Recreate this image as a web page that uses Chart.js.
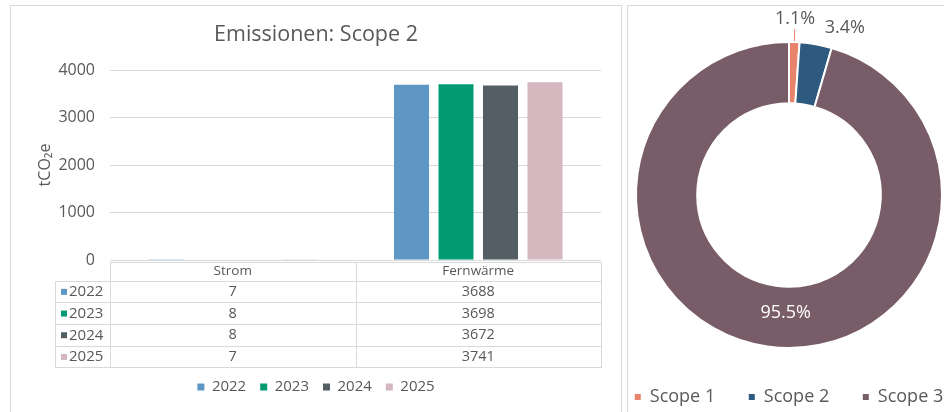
<!DOCTYPE html>
<html>
<head>
<meta charset="utf-8">
<script src="https://cdn.jsdelivr.net/npm/chart.js@4/dist/chart.umd.min.js"></script>
<style>
  html, body { margin: 0; padding: 0; background: #ffffff; width: 944px; height: 412px; overflow: hidden; }
  .panel { position: absolute; border: 1px solid #d9d9d9; background: #fff; overflow: hidden; }
  #leftPanel { left: 10px; top: 5px; width: 610px; height: 412px; }
  #rightPanel { left: 627px; top: 5px; width: 330px; height: 412px; }
  canvas { position: absolute; top: 0; }
  #barChart { left: 0; }
  #donutChart { left: -40px; }
</style>
</head>
<body>
<div class="panel" id="leftPanel"><canvas id="barChart" width="610" height="410"></canvas></div>
<div class="panel" id="rightPanel"><canvas id="donutChart" width="400" height="412"></canvas></div>
<script>
// ---- data ----
const categories = ['Strom', 'Fernwärme'];
const years = ['2022', '2023', '2024', '2025'];
const values2022 = [7, 3688];
const values2023 = [8, 3698];
const values2024 = [8, 3672];
const values2025 = [7, 3741];
const yTicks = [0, 1000, 2000, 3000, 4000];
const chartTitle = 'Emissionen: Scope 2';
const yAxisTitle = 'tCO\u2082e';

const scopeLabels = ['Scope 1', 'Scope 2', 'Scope 3'];
const scopeShares = [1.1, 3.4, 95.5];

// ---- styles ----
const yearColors = ['#5e96c4', '#009b72', '#545f65', '#d5b8bf'];
const scopeColors = ['#e8836c', '#2e5a80', '#785c67'];
const textGray = '#595959';
const lineGray = '#d9d9d9';
const FONT = "'Open Sans', 'Noto Sans', sans-serif";

Chart.defaults.font.family = FONT;
Chart.defaults.color = textGray;

const seriesValues = [values2022, values2023, values2024, values2025];

// Data table drawn beneath the category axis
const dataTablePlugin = {
  id: 'dataTable',
  afterDraw(chart) {
    const { ctx, chartArea, scales } = chart;
    const x = scales.x;
    const top = chartArea.bottom + 1.5;
    const headerH = 19, rowH = 21.7;
    const keyLeft = 44;
    const right = chartArea.right;
    const left = chartArea.left;
    const rowsTop = top + headerH;
    const bottom = rowsTop + rowH * years.length;
    const catW = (right - left) / categories.length;

    ctx.save();
    ctx.strokeStyle = lineGray;
    ctx.lineWidth = 1;
    ctx.beginPath();
    ctx.moveTo(left, Math.round(top) + 0.5); ctx.lineTo(right, Math.round(top) + 0.5);
    for (let k = 0; k <= years.length; k++) {
      const yy = Math.round(rowsTop + k * rowH) + 0.5;
      ctx.moveTo(keyLeft, yy); ctx.lineTo(right, yy);
    }
    ctx.moveTo(keyLeft + 0.5, Math.round(rowsTop)); ctx.lineTo(keyLeft + 0.5, Math.round(bottom) + 1);
    for (let c = 0; c <= categories.length; c++) {
      const xx = Math.round(left + c * catW) + 0.5;
      ctx.moveTo(xx, Math.round(top)); ctx.lineTo(xx, Math.round(bottom) + 1);
    }
    ctx.stroke();

    ctx.textBaseline = 'middle';
    ctx.fillStyle = textGray;
    ctx.font = '13.5px ' + FONT;
    ctx.textAlign = 'center';
    categories.forEach((cat, i) => {
      ctx.fillText(cat, x.getPixelForValue(i), top + headerH / 2 + 0.5);
    });
    years.forEach((yr, r) => {
      const cy = rowsTop + r * rowH + rowH / 2 + 0.5;
      ctx.fillStyle = yearColors[r];
      ctx.fillRect(keyLeft + 6, cy - 3, 6, 6);
      ctx.fillStyle = textGray;
      ctx.font = '15px ' + FONT;
      ctx.textAlign = 'left';
      ctx.fillText(yr, keyLeft + 14, cy);
      ctx.font = '14.5px ' + FONT;
      ctx.textAlign = 'center';
      seriesValues[r].forEach((v, i) => {
        ctx.fillText(String(v), x.getPixelForValue(i), cy);
      });
    });
    ctx.restore();
  }
};

new Chart(document.getElementById('barChart'), {
  type: 'bar',
  data: {
    labels: categories,
    datasets: years.map((yr, i) => ({
      label: yr,
      data: seriesValues[i],
      backgroundColor: yearColors[i],
      borderWidth: 0,
      categoryPercentage: 0.725,
      barPercentage: 0.787
    }))
  },
  options: {
    responsive: false,
    animation: false,
    layout: { padding: { left: 0, right: 0, top: 0, bottom: 11.5 } },
    scales: {
      x: {
        grid: { display: false },
        border: { display: false },
        ticks: { display: false },
        afterFit(s) { s.height = 105.5; }
      },
      y: {
        min: yTicks[0],
        max: yTicks[yTicks.length - 1],
        afterBuildTicks(s) { s.ticks = yTicks.map(v => ({ value: v })); },
        ticks: { padding: 15, font: { size: 16 }, color: textGray, callback: v => String(v) },
        grid: { color: lineGray, drawTicks: false },
        border: { display: false },
        title: { display: true, text: yAxisTitle, font: { size: 16 }, color: textGray, padding: { top: 24.4, bottom: 0 } },
        afterFit(s) { s.width = 99; }
      },
      yRight: {
        type: 'linear',
        position: 'right',
        grid: { display: false },
        border: { display: false },
        ticks: { display: false },
        afterFit(s) { s.width = 20; }
      }
    },
    plugins: {
      title: {
        display: true,
        text: chartTitle,
        font: { size: 21.5, weight: 'normal' },
        color: textGray,
        padding: { top: 16, bottom: 22.2 }
      },
      legend: {
        position: 'bottom',
        labels: { boxWidth: 7, boxHeight: 7, padding: 14, font: { size: 15 }, color: textGray }
      },
      tooltip: { enabled: false }
    }
  },
  plugins: [dataTablePlugin]
});

// Percentage labels for doughnut
const labelPlacement = [
  { mode: 'leader' },
  { mode: 'outside' },
  { mode: 'inside', dx: 14, dy: -3 }
];

const pctLabelPlugin = {
  id: 'pctLabels',
  afterDatasetsDraw(chart) {
    const { ctx } = chart;
    const meta = chart.getDatasetMeta(0);
    ctx.save();
    ctx.font = '18px ' + FONT;
    ctx.textBaseline = 'middle';
    meta.data.forEach((arc, i) => {
      const p = arc.getProps(['x', 'y', 'startAngle', 'endAngle', 'innerRadius', 'outerRadius'], true);
      const mid = (p.startAngle + p.endAngle) / 2;
      const cos = Math.cos(mid), sin = Math.sin(mid);
      const text = scopeShares[i].toFixed(1) + '%';
      const pl = labelPlacement[i];
      if (pl.mode === 'inside') {
        const r = (p.innerRadius + p.outerRadius) / 2;
        ctx.fillStyle = '#ffffff';
        ctx.textAlign = 'center';
        ctx.fillText(text, p.x + cos * r + (pl.dx || 0), p.y + sin * r + (pl.dy || 0));
      } else if (pl.mode === 'leader') {
        const r = p.outerRadius + 23;
        ctx.fillStyle = textGray;
        ctx.textAlign = 'center';
        ctx.fillText(text, p.x + cos * r, p.y + sin * r);
        ctx.strokeStyle = scopeColors[i];
        ctx.lineWidth = 1;
        ctx.beginPath();
        ctx.moveTo(p.x + cos * (p.outerRadius + 13), p.y + sin * (p.outerRadius + 13));
        ctx.lineTo(p.x + cos * (p.outerRadius + 1), p.y + sin * (p.outerRadius + 1));
        ctx.stroke();
      } else {
        const r = p.outerRadius + 17;
        ctx.fillStyle = textGray;
        ctx.textAlign = cos >= 0 ? 'left' : 'right';
        ctx.fillText(text, p.x + cos * r + (cos >= 0 ? 6 : -6), p.y + sin * r);
      }
    });
    ctx.restore();
  }
};

new Chart(document.getElementById('donutChart'), {
  type: 'doughnut',
  data: {
    labels: scopeLabels,
    datasets: [{
      data: scopeShares,
      backgroundColor: scopeColors,
      borderColor: '#ffffff',
      borderWidth: 2
    }]
  },
  options: {
    responsive: false,
    animation: false,
    cutout: '60%',
    radius: 153,
    layout: { padding: { left: 2, right: 0, top: 29.6, bottom: 2 } },
    plugins: {
      legend: {
        position: 'bottom',
        labels: {
          boxWidth: 6, boxHeight: 6, padding: 33.6, font: { size: 18 }, color: textGray,
          generateLabels(chart) {
            return Chart.overrides.doughnut.plugins.legend.labels.generateLabels(chart)
              .map(it => Object.assign(it, { lineWidth: 0 }));
          }
        }
      },
      tooltip: { enabled: false }
    }
  },
  plugins: [pctLabelPlugin]
});
</script>
</body>
</html>
